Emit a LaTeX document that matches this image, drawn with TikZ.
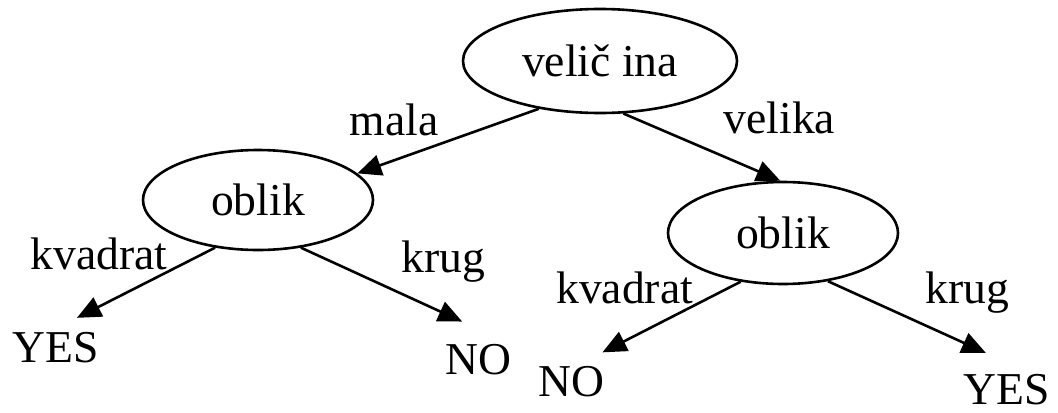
\documentclass[tikz,border=0pt]{standalone}
\usepackage{fontspec}
\setmainfont{Liberation Serif}
\usetikzlibrary{arrows.meta}
\usetikzlibrary{positioning}
\usetikzlibrary{shapes.geometric}

\begin{document}
\begin{tikzpicture}[x=0.5pt,y=-0.5pt]
\tikzset{
    every node/.style={
              font=\fontsize{22.8}{27}\selectfont
    },
    split/.style={
              ellipse,
                   draw,
                   line width=1.3pt,
                   inner sep=0pt,
                   minimum width=115pt,
                   minimum height=50pt
    },
    leaf/.style={
              inner sep=0pt
    },
    lbl/.style={
              inner sep=0pt
    },
    edge/.style={
              line width=1.3pt,
                   -{Triangle[length=12pt,width=10.5pt]}
    }
}
    \useasboundingbox (0,0) rectangle (1058,412);

    \node (vel)[split, minimum width=137pt, minimum height=52pt] at (600,61) {velič ina};
    \node (oblL)[split] at (258,200) {oblik};
    \node (oblR)[split, minimum height=51pt] at (783,233) {oblik};
    \node (yesL)[leaf] at (55.5,347.5) {YES};
    \node (noL)[leaf] at (478.5,360) {NO};
    \node (noR)[leaf] at (571,382) {NO};
    \node (yesR)[leaf] at (1007,390) {YES};

    \draw[edge] (vel.218) -- node[lbl, pos=0.52, anchor=south east, xshift=-2.4pt, yshift=2.6pt] {mala} (oblL.15);
    \draw[edge] (vel.294) -- node[lbl, pos=0.6, anchor=south west, xshift=2.4pt, yshift=9.2pt] {velika} (oblR.93);
    \draw[edge, shorten >=15.4pt] (oblL.228) -- node[lbl, pos=0.28, anchor=south east] {kvadrat} (yesL.111);
    \draw[edge, shorten >=27.3pt] (oblL.312) -- node[lbl, pos=0.47, anchor=base west, yshift=10.5pt] {krug} (noL.north east);
    \draw[edge, shorten >=15.3pt] (oblR.229) -- node[lbl, pos=0.28, anchor=south east] {kvadrat} (noR.75);
    \draw[edge, shorten >=26pt] (oblR.313) -- node[lbl, pos=0.47, anchor=base west, yshift=10.5pt] {krug} (yesR.31);

\end{tikzpicture}
\end{document}
